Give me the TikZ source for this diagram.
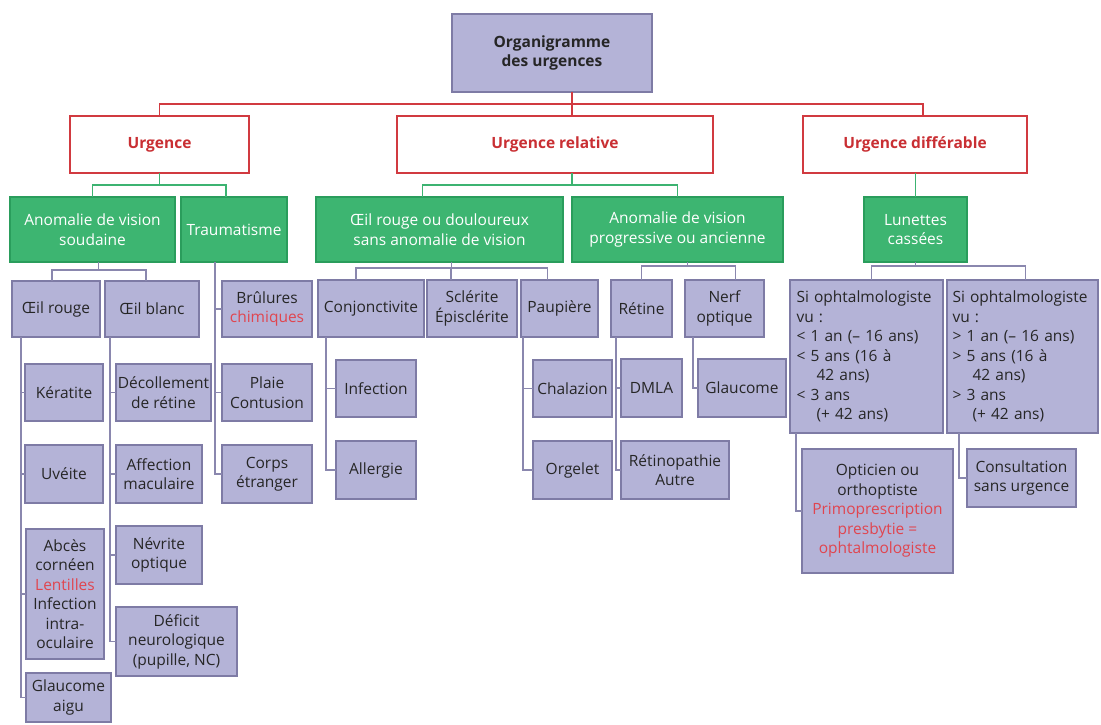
\documentclass[tikz,border=0pt]{standalone}
\usepackage{fontspec}
\setmainfont{Open Sans}
\definecolor{lavf}{HTML}{B4B3D7}
\definecolor{lavb}{HTML}{7E7BA5}
\definecolor{lavl}{HTML}{8A87AE}
\definecolor{grnf}{HTML}{3DB571}
\definecolor{grnb}{HTML}{2A9D5C}
\definecolor{grnl}{HTML}{3CB371}
\definecolor{redl}{HTML}{D13A40}
\definecolor{redt}{HTML}{C92F33}
\definecolor{rtx}{HTML}{E0454F}
\definecolor{txt}{HTML}{262626}
\newcommand\mybox[7]{\node[#6, minimum width={(#4-#2)*1pt}, minimum height={(#5-#3)*1pt}] (#1) at ({(#2+#4)/2},{(#3+#5)/2}) {#7};}
\tikzset{
  base/.style={inner sep=0pt, outer sep=0pt, align=center, font=\fontsize{15.5}{19.5}\selectfont},
  lav/.style={base, draw=lavb, fill=lavf, line width=1.4pt, text=txt},
  grn/.style={base, draw=grnb, fill=grnf, line width=1.4pt, text=white},
  urgbox/.style={base, draw=redl, fill=white, line width=1.8pt, text=redt, font=\fontsize{15.5}{19.5}\selectfont\bfseries},
  topbox/.style={lav, font=\fontsize{15.5}{19.5}\selectfont\bfseries},
  lk/.style={draw=lavl, line width=1.6pt},
  gl/.style={draw=grnl, line width=1.8pt},
  rl/.style={draw=redl, line width=1.8pt},
}
\begin{document}
\begin{tikzpicture}[x=1pt,y=-1pt]
\useasboundingbox (0,0) rectangle (1101,725);
% top
\mybox{org}{452}{14}{652}{92}{topbox}{Organigramme\\des urgences}
\mybox{urg}{70}{116}{249}{173}{urgbox}{Urgence}
\mybox{urgrel}{397}{116}{713}{173}{urgbox}{Urgence relative}
\mybox{urgdiff}{803}{116}{1027}{173}{urgbox}{Urgence différable}
% green
\mybox{ga}{10}{197}{175}{262}{grn}{Anomalie de vision\\soudaine}
\mybox{gb}{181}{197}{287}{262}{grn}{Traumatisme}
\mybox{gc}{316}{197}{563}{262}{grn}{Œil rouge ou douloureux\\sans anomalie de vision}
\mybox{gd}{572}{197}{783}{262}{grn}{Anomalie de vision\\progressive ou ancienne}
\mybox{ge}{864}{197}{967}{262}{grn}{Lunettes\\cassées}
% level 3 left
\mybox{oeilr}{12}{281}{100}{337}{lav}{Œil rouge}
\mybox{oeilb}{105}{281}{199}{337}{lav}{Œil blanc}
\mybox{brul}{222}{281}{312}{337}{lav}{Brûlures\\\textcolor{rtx}{chimiques}}
\mybox{plaie}{222}{364}{312}{421}{lav}{Plaie\\Contusion}
\mybox{corps}{222}{445}{312}{503}{lav}{Corps\\étranger}
\mybox{kerat}{25}{364}{103}{421}{lav}{Kératite}
\mybox{uveite}{25}{445}{103}{503}{lav}{Uvéite}
\mybox{abces}{26}{529}{104}{659}{lav}{Abcès\\cornéen\\\textcolor{rtx}{Lentilles}\\Infection\\intra-\\oculaire}
\mybox{glauca}{26}{673}{111}{722}{lav}{Glaucome\\aigu}
\mybox{decol}{116}{364}{211}{421}{lav}{Décollement\\de rétine}
\mybox{affec}{116}{445}{202}{503}{lav}{Affection\\maculaire}
\mybox{nevr}{116}{526}{202}{584}{lav}{Névrite\\optique}
\mybox{defic}{116}{607}{237}{676}{lav}{Déficit\\neurologique\\(pupille, NC)}
% middle
\mybox{conj}{318}{280}{424}{337}{lav}{Conjonctivite}
\mybox{scler}{427}{280}{517}{337}{lav}{Sclérite\\Épisclérite}
\mybox{paup}{521}{280}{598}{337}{lav}{Paupière}
\mybox{infec}{336}{360}{416}{417}{lav}{Infection}
\mybox{allerg}{336}{441}{416}{499}{lav}{Allergie}
\mybox{chala}{533}{360}{612}{417}{lav}{Chalazion}
\mybox{orgel}{533}{441}{612}{499}{lav}{Orgelet}
\mybox{retine}{611}{280}{672}{337}{lav}{Rétine}
\mybox{nerf}{685}{280}{764}{337}{lav}{Nerf\\optique}
\mybox{dmla}{621}{359}{682}{417}{lav}{DMLA}
\mybox{retino}{621}{441}{729}{499}{lav}{Rétinopathie\\Autre}
\mybox{glauc}{698}{359}{786}{417}{lav}{Glaucome}
% right
\mybox{sia}{790}{280}{943}{433}{lav, text width=140pt, align=left}{Si ophtalmologiste\\vu :\\<~1 an (– 16 ans)\\<~5 ans (16 à\\\hspace*{20pt}42 ans)\\<~3 ans\\\hspace*{20pt}(+ 42 ans)}
\mybox{sib}{947}{280}{1098}{433}{lav, text width=140pt, align=left}{Si ophtalmologiste\\vu :\\>~1 an (– 16 ans)\\>~5 ans (16 à\\\hspace*{20pt}42 ans)\\>~3 ans\\\hspace*{20pt}(+ 42 ans)}
\mybox{optic}{802}{449}{953}{573}{lav}{Opticien ou\\orthoptiste\\\textcolor{rtx}{Primoprescription}\\\textcolor{rtx}{presbytie =}\\\textcolor{rtx}{ophtalmologiste}}
\mybox{consul}{967}{449}{1076}{507}{lav}{Consultation\\sans urgence}

% red connectors
\coordinate (jr) at (572,104);
\begin{scope}[on background layer/.style={}]
\draw[rl] (org.south -| jr) -- (jr);
\draw[rl] (urg.north) |- (jr);
\draw[rl] (urgrel.north -| jr) -- (jr);
\draw[rl] ([xshift=8pt]urgdiff.north) |- (jr);
\end{scope}
% green connectors
\draw[gl] (urg.south) -- ++(0,12) -| ([xshift=-8pt]gb.north);
\draw[gl] (urg.south) -- ++(0,12) -| (ga.north);
\draw[gl] ([xshift=17pt]urgrel.south) -- ++(0,12) -| ([xshift=-17pt]gc.north);
\draw[gl] ([xshift=17pt]urgrel.south) -- ++(0,12) -| (gd.north);
\draw[gl] (urgdiff.south -| ge.north) -- (ge.north);
% lavender connectors
\draw[lk] ([xshift=6pt]ga.south) -- ++(0,8) -| ([xshift=-4pt]oeilr.north);
\draw[lk] ([xshift=6pt]ga.south) -- ++(0,8) -| ([xshift=-6pt]oeilb.north);
\foreach \c in {brul,plaie,corps} \draw[lk] ([xshift=34pt]gb.south west) |- (\c.west);
\foreach \c in {kerat,uveite,abces,glauca} \draw[lk] ([xshift=9pt]oeilr.south west) |- (\c.west);
\foreach \c in {decol,affec,nevr,defic} \draw[lk] ([xshift=5pt]oeilb.south west) |- (\c.west);
\draw[lk] ([xshift=12pt]gc.south) -- ++(0,6) -| ([xshift=-15pt]conj.north);
\draw[lk] ([xshift=12pt]gc.south) -- ++(0,6) -| ([xshift=-21pt]scler.north);
\draw[lk] ([xshift=12pt]gc.south) -- ++(0,6) -| ([xshift=-12pt]paup.north);
\foreach \c in {infec,allerg} \draw[lk] ([xshift=8pt]conj.south west) |- (\c.west);
\foreach \c in {chala,orgel} \draw[lk] ([xshift=2pt]paup.south west) |- (\c.west);
\draw[lk] ([xshift=10pt]gd.south) -- ++(0,4) -| (retine.north);
\draw[lk] ([xshift=10pt]gd.south) -- ++(0,4) -| ([xshift=11pt]nerf.north);
\foreach \c in {dmla,retino} \draw[lk] ([xshift=5pt]retine.south west) |- (\c.west);
\draw[lk] ([xshift=8pt]nerf.south west) |- (glauc.west);
\draw[lk] (ge.south) -- ++(0,4) -| ([xshift=5pt]sia.north);
\draw[lk] (ge.south) -- ++(0,4) -| ([xshift=3pt]sib.north);
\draw[lk] ([xshift=6pt]sia.south west) |- (optic.west);
\draw[lk] ([xshift=12pt]sib.south west) |- (consul.west);
\end{tikzpicture}
\end{document}
